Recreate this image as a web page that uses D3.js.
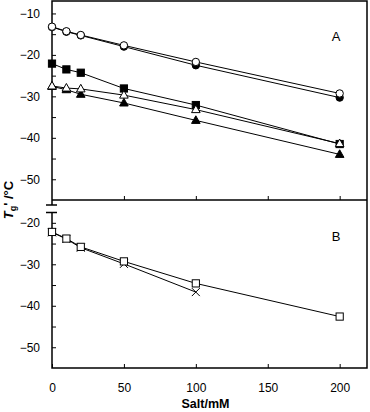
<!DOCTYPE html>
<html>
<head>
<meta charset="utf-8">
<script src="https://cdn.jsdelivr.net/npm/d3@7"></script>
<style>
  body { margin: 0; background: #fff; }
  svg { display: block; font-family: "Liberation Sans", Arial, sans-serif; }
  .tick text { font-size: 12px; fill: #000; }
</style>
</head>
<body>
<svg id="chart" width="370" height="412"></svg>
<script>
// salt concentration (mM)
const salt = [0, 10, 20, 50, 100, 200];
const saltCross = [0, 10, 20, 50, 100];

// panel A
const openCircle     = [-13.2, -14.3, -15.2, -17.7, -21.7, -29.3];
const filledCircle   = [-13.3, -14.4, -15.3, -18.0, -22.5, -30.3];
const filledSquare   = [-22.1, -23.5, -24.3, -28.1, -32.1, -41.5];
const openTriangle   = [-27.5, -28.0, -28.2, -29.7, -33.2, -41.4];
const filledTriangle = [-27.6, -28.4, -29.5, -31.6, -35.8, -44.0];

// panel B
const openSquareB = [-22.2, -23.8, -25.8, -29.3, -34.6, -42.6];
const crossB      = [-22.3, -23.9, -26.0, -29.9, -36.7];

const xTicks = [0, 50, 100, 150, 200];
const yTicksA = [-10, -20, -30, -40, -50];
const yMinorA = [-15, -25, -35, -45];
const yTicksB = [-20, -30, -40, -50];
const yMinorB = [-25, -35, -45];

const svg = d3.select("#chart");
const mLeft = 52, mRight = 367, mTop = 1, mMid = 200, mBottom = 368;

const x = d3.scaleLinear().domain([0, 219]).range([mLeft, mRight]);
const yA = d3.scaleLinear().domain([-55, -7]).range([mMid, mTop]);
const yB = d3.scaleLinear().domain([-55, -14.5]).range([mBottom, mMid]);

// y axes
function yAxis(scale, majors, minors) {
    svg.append("g")
        .attr("transform", `translate(${mLeft},0)`)
        .call(d3.axisLeft(scale).tickValues(majors).tickSizeInner(-4).tickSizeOuter(0).tickPadding(12))
        .call(g => g.select(".domain").remove());
    svg.append("g")
        .attr("transform", `translate(${mLeft},0)`)
        .call(d3.axisLeft(scale).tickValues(minors).tickSizeInner(-4).tickSizeOuter(0).tickFormat(""))
        .call(g => g.select(".domain").remove());
}
yAxis(yA, yTicksA, yMinorA);
yAxis(yB, yTicksB, yMinorB);

// x axes (ticks pointing up)
svg.append("g")
    .attr("transform", `translate(0,${mMid})`)
    .call(d3.axisBottom(x).tickValues(xTicks.slice(1)).tickSizeInner(-4).tickSizeOuter(0).tickFormat(""))
    .call(g => g.select(".domain").remove());
svg.append("g")
    .attr("transform", `translate(0,${mBottom})`)
    .call(d3.axisBottom(x).tickValues(xTicks).tickSizeInner(-4).tickSizeOuter(0).tickPadding(15))
    .call(g => g.select(".domain").remove());

svg.selectAll(".tick line").attr("stroke", "#000").attr("stroke-width", 1);

// frame with axis break
const frame = svg.append("g").attr("fill", "none").attr("stroke", "#000").attr("stroke-width", 1.5);
frame.append("path").attr("d", `M${mLeft},205 L${mLeft},${mTop} L${mRight},${mTop} L${mRight},${mBottom} L${mLeft},${mBottom} L${mLeft},213`);
frame.append("line").attr("x1", mLeft).attr("x2", mRight).attr("y1", mMid).attr("y2", mMid);
frame.append("line").attr("x1", 46).attr("x2", 57).attr("y1", 205).attr("y2", 205);
frame.append("line").attr("x1", 46).attr("x2", 57).attr("y1", 212.5).attr("y2", 212.5);

// series
function series(xs, ys, yScale, shape, filled) {
    const pts = xs.map((d, i) => [x(d), yScale(ys[i])]);
    svg.append("path")
        .attr("d", d3.line()(pts))
        .attr("fill", "none").attr("stroke", "#000").attr("stroke-width", 1);
    const g = svg.append("g");
    const fill = filled ? "#000" : "#fff";
    pts.forEach(p => {
        if (shape === "circle") {
            g.append("circle").attr("cx", p[0]).attr("cy", p[1]).attr("r", 3.7)
                .attr("fill", fill).attr("stroke", "#000").attr("stroke-width", 1);
        } else if (shape === "square") {
            g.append("rect").attr("x", p[0] - 3.6).attr("y", p[1] - 3.6).attr("width", 7.2).attr("height", 7.2)
                .attr("fill", fill).attr("stroke", "#000").attr("stroke-width", 1);
        } else if (shape === "triangle") {
            g.append("path").attr("d", `M${p[0]},${p[1] - 4.6}L${p[0] + 4.3},${p[1] + 3}L${p[0] - 4.3},${p[1] + 3}Z`)
                .attr("fill", fill).attr("stroke", "#000").attr("stroke-width", 1);
        } else if (shape === "cross") {
            g.append("path").attr("d", `M${p[0] - 4},${p[1] - 4}L${p[0] + 4},${p[1] + 4}M${p[0] + 4},${p[1] - 4}L${p[0] - 4},${p[1] + 4}`)
                .attr("stroke", "#000").attr("stroke-width", 1);
        }
    });
}

series(salt, filledCircle, yA, "circle", true);
series(salt, filledSquare, yA, "square", true);
series(salt, filledTriangle, yA, "triangle", true);
series(salt, openCircle, yA, "circle", false);
series(salt, openTriangle, yA, "triangle", false);

series(saltCross, crossB, yB, "cross", false);
series(salt, openSquareB, yB, "square", false);

// panel labels
svg.append("text").attr("x", 336).attr("y", 41).attr("text-anchor", "middle")
    .attr("font-size", 13).text("A");
svg.append("text").attr("x", 336).attr("y", 241).attr("text-anchor", "middle")
    .attr("font-size", 13).text("B");

// axis titles
svg.append("text").attr("x", (mLeft + mRight) / 2 - 4).attr("y", 408)
    .attr("text-anchor", "middle").attr("font-size", 12.5).attr("font-weight", "bold")
    .text("Salt/mM");

const yl = svg.append("text")
    .attr("transform", "translate(13,200) rotate(-90)")
    .attr("text-anchor", "middle").attr("font-size", 13).attr("font-weight", "bold");
yl.append("tspan").attr("font-style", "italic").text("T");
yl.append("tspan").attr("font-size", 9).attr("dy", 3).text("g");
yl.append("tspan").attr("dy", -3).text("' /°C");
</script>
</body>
</html>
